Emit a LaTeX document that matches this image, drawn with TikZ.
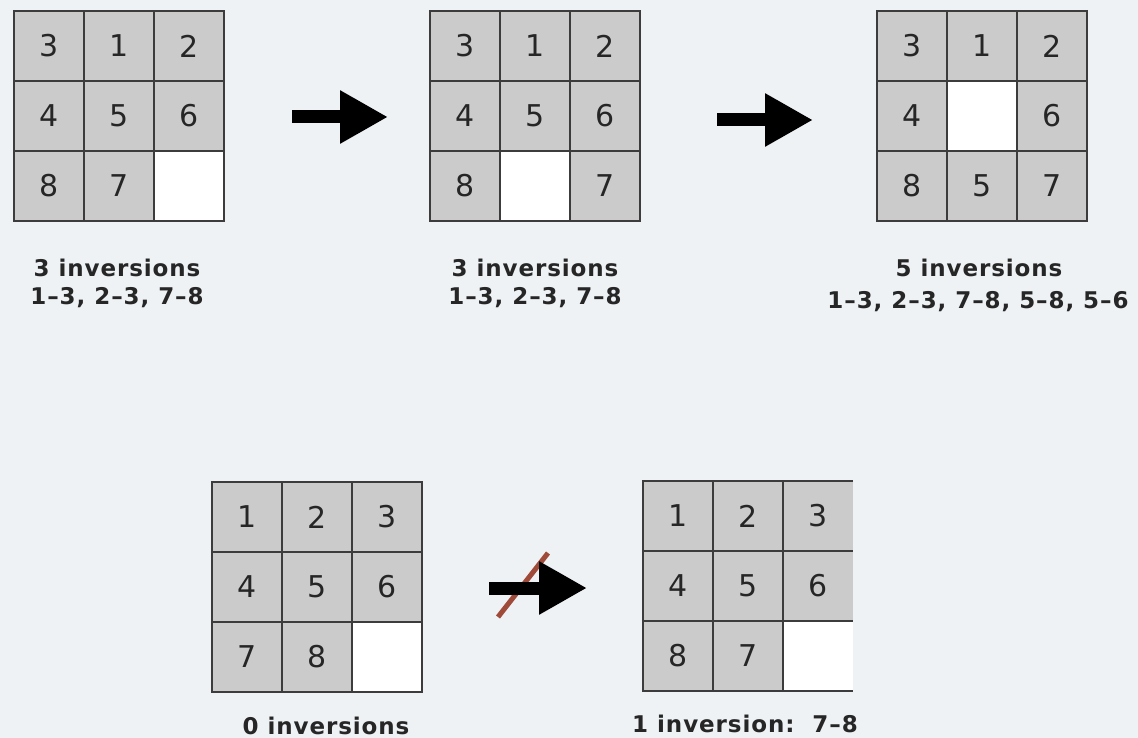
\documentclass[tikz,border=0pt]{standalone}
\usepackage{fontspec}
\setmainfont{DejaVu Sans}
\usetikzlibrary{arrows.meta}
\definecolor{bg}{HTML}{EEF2F5}
\definecolor{cellgray}{HTML}{CBCBCB}
\definecolor{gridline}{HTML}{3C3C3C}
\definecolor{slashred}{HTML}{A04A3A}
\tikzset{
  cell/.style={minimum size=70pt, inner sep=0pt, outer sep=0pt,
    font=\fontsize{30}{30}\selectfont, text=black!85},
  gl/.style={draw=gridline, line width=1.6pt},
  lbl/.style={font=\fontsize{23}{23}\selectfont\bfseries\addfontfeature{LetterSpace=4},
    text=black!85, inner sep=0pt},
  bigarrow/.style={line width=13pt, -{Triangle[length=48pt,width=50pt]}},
}
\newcommand\pzgrid[4]{%
  \foreach \v/\f [count=\i from 0] in {#4} {
    \pgfmathtruncatemacro\r{div(\i,3)}
    \pgfmathtruncatemacro\c{mod(\i,3)}
    \node[cell, fill=\f] (#1-\r\c) at ({#2+35+70*\c},{#3+35+70*\r}) {\v};
  }
}
\newcommand\pzinner[1]{%
  \draw[gl] (#1-00.north east) -- (#1-20.south east);
  \draw[gl] (#1-01.north east) -- (#1-21.south east);
  \draw[gl] (#1-00.south west) -- (#1-02.south east);
  \draw[gl] (#1-10.south west) -- (#1-12.south east);
}
\begin{document}
\begin{tikzpicture}[x=1pt,y=-1pt]
\useasboundingbox (0,0) rectangle (1138,738);
\fill[bg] (0,0) rectangle (1138,738);

% grid 1
\pzgrid{ga}{14}{11}{3/cellgray,1/cellgray,2/cellgray,4/cellgray,5/cellgray,6/cellgray,8/cellgray,7/cellgray,/white}
\pzinner{ga}
\draw[gl] (ga-00.north west) rectangle (ga-22.south east);

% grid 2
\pzgrid{gb}{430}{11}{3/cellgray,1/cellgray,2/cellgray,4/cellgray,5/cellgray,6/cellgray,8/cellgray,/white,7/cellgray}
\pzinner{gb}
\draw[gl] (gb-00.north west) rectangle (gb-22.south east);

% grid 3
\pzgrid{gc}{877}{11}{3/cellgray,1/cellgray,2/cellgray,4/cellgray,/white,6/cellgray,8/cellgray,5/cellgray,7/cellgray}
\pzinner{gc}
\draw[gl] (gc-00.north west) rectangle (gc-22.south east);

% grid 4
\pzgrid{gd}{212}{482}{1/cellgray,2/cellgray,3/cellgray,4/cellgray,5/cellgray,6/cellgray,7/cellgray,8/cellgray,/white}
\pzinner{gd}
\draw[gl] (gd-00.north west) rectangle (gd-22.south east);

% grid 5 (no right border)
\pzgrid{ge}{643}{481}{1/cellgray,2/cellgray,3/cellgray,4/cellgray,5/cellgray,6/cellgray,8/cellgray,7/cellgray,/white}
\pzinner{ge}
\draw[gl] (ge-02.north east) -- (ge-00.north west) -- (ge-20.south west) -- (ge-22.south east);

% labels
\node[lbl] (la1) at (117,268) {3 inversions};
\node[lbl] (la2) at (117,298) {1–3, 2–3, 7–8};
\node[lbl] (lb1) at (535,268) {3 inversions};
\node[lbl] (lb2) at (535,298) {1–3, 2–3, 7–8};
\node[lbl] (lc1) at (979,268) {5 inversions};
\node[lbl] (lc2) at (978,302) {1–3, 2–3, 7–8, 5–8, 5–6};
\node[lbl] (ld) at (326,726) {0 inversions};
\node[lbl] (le) at (745,724) {1 inversion:\ \ 7–8};

% arrows
\coordinate (a1s) at (292,117);
\coordinate (a1e) at (388,117);
\coordinate (a2s) at (717,120);
\coordinate (a2e) at (813,120);
\coordinate (a3s) at (489,588);
\coordinate (a3e) at (587,588);
\coordinate (sl1) at (498,617);
\coordinate (sl2) at (548,553);
\draw[bigarrow] (a1s) -- (a1e);
\draw[bigarrow] (a2s) -- (a2e);
\draw[slashred, line width=5pt] (sl1) -- (sl2);
\draw[bigarrow] (a3s) -- (a3e);
\end{tikzpicture}
\end{document}
